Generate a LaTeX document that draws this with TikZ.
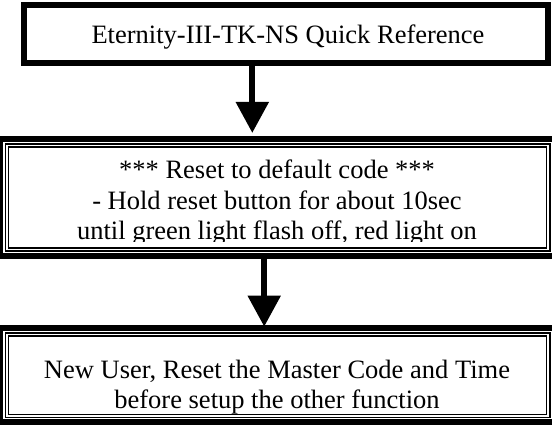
\documentclass[tikz,border=0pt]{standalone}
\usepackage{fontspec}
\setmainfont{Liberation Serif}
\usetikzlibrary{arrows.meta}

\begin{document}
\begin{tikzpicture}[y=1pt,x=1pt,yscale=-1, inner sep=0pt, outer sep=0pt,
  thickbox/.style={draw=black,line width=6pt},
  thinframe/.style={draw=black,line width=1.4pt,double=white,double distance=1.7pt},
  flowtext/.style={anchor=base,align=center,font=\fontsize{26.5}{30.5}\selectfont},
  flowarrow/.style={draw=black,line width=6.3pt,-{Triangle[width=31.6pt,length=31pt]}}]
  \useasboundingbox[fill=white] (0,0) rectangle (552,427);
  % boxes
  \node[thickbox,minimum width=524pt,minimum height=58pt] (rect4010) at (286,34.5) {};
  \node[thickbox,minimum width=554.4pt,minimum height=117pt] (rect4012) at (277.5,197.5) {};
  \node[thickbox,minimum width=554.4pt,minimum height=94.5pt] (rect4014) at (277.5,375.25) {};
  \path[thinframe] ([shift={(6.45,6.45)}]rect4012.north west)
    rectangle ([shift={(-6.45,-6.45)}]rect4012.south east);
  \path[thinframe] ([shift={(6.45,6.45)}]rect4014.north west)
    rectangle ([shift={(-6.45,-6.45)}]rect4014.south east);
  % texts
  \node[flowtext] (text4020) at (288,43.5) {Eternity-III-TK-NS Quick Reference};
  \begin{scope}
    \clip (10,150) rectangle (545,242);
    \node[flowtext] (text4022) at (277,240) {*** Reset to default code ***\\
      - Hold reset button for about 10sec\\
      until green light flash off, red light on};
  \end{scope}
  \node[flowtext] (text4024) at (277,409) {New User, Reset the Master Code and Time\\
    before setup the other function};
  % arrows
  \path[flowarrow] ([xshift=-33.7]rect4010.south) -- ([xshift=-25.2,yshift=-6]rect4012.north);
  \path[flowarrow] ([xshift=-13.3]rect4012.south) -- ([xshift=-13.3,yshift=-1.3]rect4014.north);
\end{tikzpicture}
\end{document}
